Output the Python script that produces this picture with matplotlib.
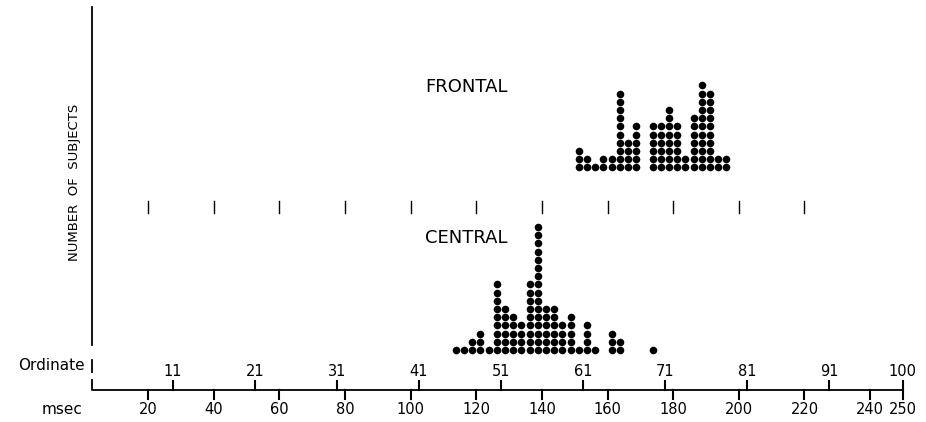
import matplotlib.pyplot as plt

# dot counts per 2.5 msec bin (bin index = ordinate value)
frontal_start = 60
frontal_counts = [3, 2, 1, 2, 2, 10, 4, 6, 0, 6, 6, 8, 6, 2, 7, 11, 10, 2, 2]
central_start = 45
central_counts = [1, 1, 2, 3, 1, 9, 6, 5, 4, 9, 16, 6, 6, 4, 5, 1, 4, 1, 0,
                  3, 2, 0, 0, 0, 1]

msec_ticks = [20, 40, 60, 80, 100, 120, 140, 160, 180, 200, 220, 240, 250]
mid_ticks = [20, 40, 60, 80, 100, 120, 140, 160, 180, 200, 220]
ordinate_ticks = [11, 21, 31, 41, 51, 61, 71, 81, 91, 100]

MS_PER_ORD = 2.5
W, H = 926, 422
PX0, PX_PER_MS = 82.4, 3.282   # pixel position of 0 msec, pixels per msec
ROW = 8.2                      # vertical spacing of stacked dots (px)


def px(x):
    # horizontal pixel -> msec
    return (x - PX0) / PX_PER_MS


fig = plt.figure(figsize=(W / 100, H / 100), dpi=100)
ax = fig.add_axes([0, 0, 1, 1])
ax.set_xlim(px(0), px(W))
ax.set_ylim(H, 0)
ax.axis('off')


def dots(start, counts, base):
    xs, ys = [], []
    for i, n in enumerate(counts):
        centre = (start + i + 0.5) * MS_PER_ORD
        for r in range(n):
            xs.append(centre)
            ys.append(base - r * ROW)
    ax.scatter(xs, ys, s=30, color='black', linewidths=0)


dots(frontal_start, frontal_counts, 167.3)
dots(central_start, central_counts, 350)

lw = 1.3
x0 = px(92.5)
ax.plot([x0, x0], [7, 345], color='black', lw=lw)
ax.plot([x0, x0], [360, 372], color='black', lw=lw)
ax.plot([x0, x0, 250], [380, 390, 390], color='black', lw=lw)

for o in ordinate_ticks:
    ax.plot([o * MS_PER_ORD] * 2, [381, 390], color='black', lw=1.5)
    ax.text(o * MS_PER_ORD, 372, str(o), ha='center', va='center', fontsize=10.5)

for m in msec_ticks:
    ax.plot([m, m], [390, 399], color='black', lw=1.5)
    ax.text(m, 410, str(m), ha='center', va='center', fontsize=10.5)

for m in mid_ticks:
    ax.plot([m, m], [201, 213], color='black', lw=1.0)

ax.text(px(467), 87, 'FRONTAL', ha='center', va='center', fontsize=13)
ax.text(px(466), 238, 'CENTRAL', ha='center', va='center', fontsize=13)
ax.text(px(75), 182, 'NUMBER  OF  SUBJECTS', rotation=90, ha='center',
        va='center', fontsize=9.5)
ax.text(px(85), 365, 'Ordinate', ha='right', va='center', fontsize=11)
ax.text(px(83), 410, 'msec', ha='right', va='center', fontsize=11)

plt.savefig('out.png', dpi=100, facecolor='white')
